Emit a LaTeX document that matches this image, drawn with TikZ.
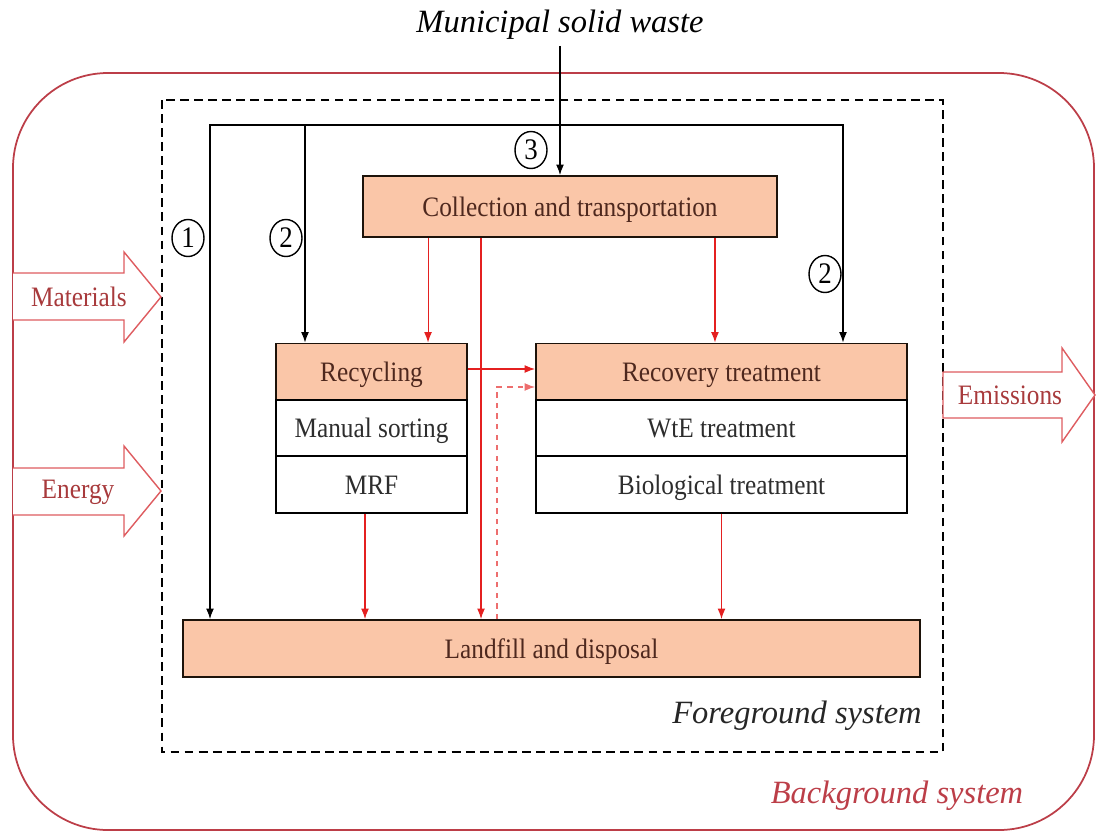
\documentclass[tikz,border=0pt]{standalone}
\usepackage{fontspec}
\setmainfont{Liberation Serif}[FakeStretch=0.9]
\newfontfamily\sysfont{Liberation Serif}
\usetikzlibrary{shapes.geometric,arrows.meta}

\definecolor{boxfill}{RGB}{250,198,168}
\definecolor{flowred}{RGB}{228,32,32}
\definecolor{bgred}{RGB}{188,62,72}
\definecolor{arrred}{RGB}{222,92,96}
\definecolor{lbred}{RGB}{168,58,60}
\definecolor{headtxt}{RGB}{78,40,30}
\definecolor{bodytxt}{RGB}{45,45,45}

\begin{document}
\begin{tikzpicture}[
	x=0.02cm, y=-0.02cm,
	txt/.style={
		font=\fontsize{16pt}{19pt}\selectfont,
		text=bodytxt,
	},
	hdbox/.style={% coloured heading boxes
		rectangle,
		draw=black!85!brown,
		line width=1.1pt,
		fill=boxfill,
		txt,
		text=headtxt,
		inner sep=0pt,
		text height=11pt,
		text depth=0pt,
	},
	rowbox/.style={
		rectangle,
		draw=black,
		line width=1.1pt,
		fill=white,
		txt,
		inner sep=0pt,
		text height=11pt,
		text depth=0pt,
	},
	circnum/.style={
		ellipse,
		draw,
		line width=0.8pt,
		inner sep=0pt,
		minimum width=0.64cm,
		minimum height=0.74cm,
		font=\fontsize{17pt}{20pt}\selectfont,
		text=black,
	},
	sys/.style={
		font=\fontsize{18.5pt}{22pt}\sysfont\itshape,
	},
	flow/.style={-{Latex[length=6pt,width=4.5pt]}, line width=0.6pt},
	redflow/.style={flow, draw=flowred},
	bigarrow/.style={draw=arrred, line width=0.8pt, fill=white},
]
	\useasboundingbox (0,0) rectangle (1096,836);

	% system borders
	\draw [bgred, line width=1pt, rounded corners=1.9cm] (13,73) rectangle (1094,830);
	\draw [dash pattern=on 5pt off 3pt, line width=0.8pt] (162,100) rectangle (943,752);

	% inputs and outputs
	\draw [bigarrow] (13,273) -- (124,273) -- (124,252) -- (161,297) -- (124,342) -- (124,320) -- (13,320);
	\draw [bigarrow] (13,468) -- (124,468) -- (124,446) -- (161,491) -- (124,536) -- (124,515) -- (13,515);
	\draw [bigarrow] (943,372) -- (1062,372) -- (1062,348) -- (1095,395) -- (1062,442) -- (1062,418) -- (943,418) -- cycle;
	\node [txt, text=lbred] (mat) at (79,297) {Materials};
	\node [txt, text=lbred] (ener) at (78,492) {Energy};
	\node [txt, text=lbred] (emis) at (1010,395) {Emissions};

	\node [sys, text=black] (msw) at (560,25) {Municipal solid waste};
	\node [sys, text=black!85] (fg) at (797,716) {Foreground system};
	\node [sys, text=bgred] (bg) at (897,796) {Background system};

	\node [hdbox, minimum width=8.28cm, minimum height=1.22cm] (coll) at (570,206.5) {Collection and transportation};
	\node [hdbox, minimum width=3.82cm, minimum height=1.14cm] (recy) at (371.5,372) {Recycling};
	\node [rowbox, minimum width=3.82cm, minimum height=1.13cm] (manual) at (371.5,428) {Manual sorting};
	\node [rowbox, minimum width=3.82cm, minimum height=1.13cm] (mrf) at (371.5,484.5) {MRF};
	\node [hdbox, minimum width=7.42cm, minimum height=1.14cm] (reco) at (721.5,372) {Recovery treatment};
	\node [rowbox, minimum width=7.42cm, minimum height=1.13cm] (wte) at (721.5,428) {WtE treatment};
	\node [rowbox, minimum width=7.42cm, minimum height=1.13cm] (bio) at (721.5,484.5) {Biological treatment};
	\node [hdbox, minimum width=14.74cm, minimum height=1.14cm] (land) at (551.5,648.5) {Landfill and disposal};

	\node [circnum] (n1) at (188,238) {1};
	\node [circnum] (n2) at (286,238) {2};
	\node [circnum] (n3) at (531,150) {3};
	\node [circnum] (n4) at (825,274) {2};

	% black routes
	\coordinate (topL) at (210,125);
	\coordinate (topM) at (305,125);
	\coordinate (topR) at (843,125);
	\draw [flow] (msw.south) -- (msw.south |- coll.north);
	\draw [{Latex[length=6pt,width=4.5pt]}-{Latex[length=6pt,width=4.5pt]}, line width=0.6pt] (topR |- reco.north) -- (topR) -- (topL) -- (topL |- land.north);
	\draw [flow] (topM) -- (topM |- recy.north);

	% red flows
	\coordinate (c1) at ([xshift=-2.84cm]coll.south);
	\coordinate (c2) at ([xshift=-1.78cm]coll.south);
	\coordinate (c3) at ([xshift=2.9cm]coll.south);
	\coordinate (l1) at ([xshift=-1.09cm]land.north);
	\coordinate (m1) at ([xshift=-0.13cm]mrf.south);
	\draw [redflow] (c1) -- (c1 |- recy.north);
	\draw [redflow] (c3) -- (c3 |- reco.north);
	\draw [redflow] (c2) -- (c2 |- land.north);
	\draw [redflow] ([yshift=0.06cm]recy.east) -- ([yshift=0.06cm]reco.west);
	\draw [redflow, draw=flowred!65, dashed] (l1) |- ([yshift=-0.3cm]reco.west);
	\draw [redflow] (m1) -- (m1 |- land.north);
	\draw [redflow] (bio.south) -- (bio.south |- land.north);
\end{tikzpicture}
\end{document}
